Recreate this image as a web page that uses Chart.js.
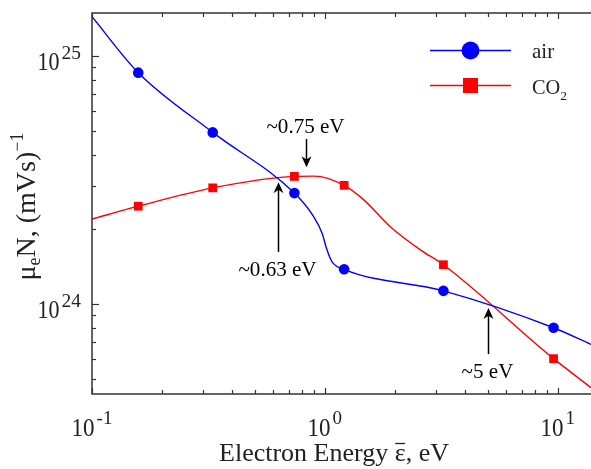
<!DOCTYPE html>
<html><head><meta charset="utf-8">
<script src="https://cdn.jsdelivr.net/npm/chart.js@4.4.1/dist/chart.umd.min.js"></script>
<style>html,body{margin:0;padding:0;background:#fff;overflow:hidden}</style>
</head><body>
<canvas id="c" width="591" height="469"></canvas>
<script>
// ---- data ----
const energy = [0.158, 0.33, 0.74, 1.21, 3.23, 9.6];            // eV (marker positions)
const airMobility = [8.57e24, 4.92e24, 2.80e24, 1.38e24, 1.13e24, 8.02e23];
const co2Mobility = [2.48e24, 2.94e24, 3.27e24, 3.01e24, 1.44e24, 6.02e23];
// extra points (between / beyond markers)
const airCurveX = [0.1, 0.895, 0.973, 1.022, 1.074, 13.9];
const airCurveY = [1.44e25, 2.25e24, 1.93e24, 1.65e24, 1.48e24, 6.87e23];
const co2CurveX = [0.1, 0.9, 1.47, 1.91, 2.58, 13.9];
const co2CurveY = [2.2e24, 3.28e24, 2.63e24, 2.05e24, 1.65e24, 4.6e23];
const xTickValues = [0.1, 1, 10];
const xTickExponents = ['-1', '0', '1'];
const yTickValues = [1e24, 1e25];
const yTickExponents = ['24', '25'];
const seriesNames = ['air', 'CO'];
const annotationLabels = ['~0.75 eV', '~0.63 eV', '~5 eV'];
const annotationX = [0.829, 0.627, 5.02];
const annotationTipY = [3.56e24, 3.10e24, 9.63e23];
const annotationTailY = [4.63e24, 1.62e24, 6.28e23];

const BLUE = '#0000ff', RED = '#ff0000', AXIS = '#333333';
const FONT = '"Liberation Serif", "Times New Roman", serif';

function merge(xs, ys, cx, cy) {
  const pts = xs.map((x, i) => ({x, y: ys[i]})).concat(cx.map((x, i) => ({x, y: cy[i]})));
  pts.sort((a, b) => a.x - b.x);
  return pts;
}
const markers = (ys) => energy.map((x, i) => ({x, y: ys[i]}));

function drawText(ctx, s, x, y, size, align, sx) {
  ctx.save();
  ctx.translate(x, y);
  ctx.scale(sx || 1, 1);
  ctx.font = size + 'px ' + FONT;
  ctx.textAlign = align || 'left';
  ctx.textBaseline = 'alphabetic';
  ctx.fillText(s, 0, 0);
  ctx.restore();
}
function textW(ctx, s, size, sx) {
  ctx.save(); ctx.font = size + 'px ' + FONT;
  const w = ctx.measureText(s).width * (sx || 1);
  ctx.restore(); return w;
}
function arrow(ctx, x, y0, y1) {
  const dir = y1 > y0 ? 1 : -1, len = 11, hw = 5;
  ctx.beginPath();
  ctx.moveTo(x, y0); ctx.lineTo(x, y1 - dir * len * 0.6);
  ctx.stroke();
  ctx.beginPath();
  ctx.moveTo(x, y1);
  ctx.lineTo(x - hw, y1 - dir * len);
  ctx.lineTo(x, y1 - dir * len * 0.7);
  ctx.lineTo(x + hw, y1 - dir * len);
  ctx.closePath(); ctx.fill();
}

const decor = {
  id: 'decor',
  afterDraw(chart) {
    const ctx = chart.ctx, a = chart.chartArea, xs = chart.scales.x, ys = chart.scales.y;
    ctx.save();
    ctx.strokeStyle = AXIS; ctx.fillStyle = AXIS; ctx.lineWidth = 1.5;
    ctx.beginPath();
    ctx.moveTo(a.right + 2, a.top); ctx.lineTo(a.left, a.top); ctx.lineTo(a.left, a.bottom); ctx.lineTo(a.right + 2, a.bottom);
    ctx.stroke();
    ctx.lineWidth = 1.2;
    for (let d = -1; d <= 1; d++) {
      for (let m = 1; m <= 9; m++) {
        const v = m * Math.pow(10, d);
        if (v < xs.min || v > xs.max) continue;
        const px = Math.round(xs.getPixelForValue(v)) + 0.5;
        const L = m === 1 ? 6 : 4;
        ctx.beginPath();
        ctx.moveTo(px, a.bottom); ctx.lineTo(px, a.bottom - L);
        ctx.moveTo(px, a.top); ctx.lineTo(px, a.top + L);
        ctx.stroke();
      }
    }
    for (let d = 23; d <= 25; d++) {
      for (let m = 1; m <= 9; m++) {
        const v = m * Math.pow(10, d);
        if (v < ys.min || v > ys.max) continue;
        const py = Math.round(ys.getPixelForValue(v)) + 0.5;
        const L = m === 1 ? 7 : 4;
        ctx.beginPath();
        ctx.moveTo(a.left, py); ctx.lineTo(a.left + L, py);
        ctx.stroke();
      }
    }
    ctx.fillStyle = '#222';
    xTickValues.forEach((v, i) => {
      const px = xs.getPixelForValue(v);
      const w1 = textW(ctx, '10', 25, 0.92), w2 = textW(ctx, xTickExponents[i], 19, 1);
      const start = px - (w1 + 2 + w2) / 2;
      drawText(ctx, '10', start, 436, 25, 'left', 0.92);
      drawText(ctx, xTickExponents[i], start + w1 + 2, 424, 19, 'left', 1);
    });
    yTickValues.forEach((v, i) => {
      const py = ys.getPixelForValue(v);
      const w2 = textW(ctx, yTickExponents[i], 19, 1.02);
      const right = 81;
      drawText(ctx, yTickExponents[i], right - w2, py + 2.5, 19, 'left', 1.02);
      drawText(ctx, '10', right - w2 - 2, py + 13.5, 25, 'right', 0.88);
    });
    {
      const p1 = 'Electron Energy ', p2 = '\u03b5', p3 = ', eV', sz = 26, sx = 1.0;
      const w1 = textW(ctx, p1, sz, sx), w2 = textW(ctx, p2, sz, sx), w3 = textW(ctx, p3, sz, sx);
      const start = 334 - (w1 + w2 + w3) / 2, base = 461;
      drawText(ctx, p1, start, base, sz, 'left', sx);
      drawText(ctx, p2, start + w1, base, sz, 'left', sx);
      drawText(ctx, p3, start + w1 + w2, base, sz, 'left', sx);
      ctx.lineWidth = 1.3; ctx.strokeStyle = '#222';
      ctx.beginPath(); ctx.moveTo(start + w1 + 0.5, base - 17.5); ctx.lineTo(start + w1 + w2 - 0.5, base - 17.5); ctx.stroke();
    }
    {
      const parts = [['\u03bc', 28, 0], ['e', 18, 5], ['N, (mVs)', 28, 0], ['\u22121', 18, -12]];
      const sx = 1.0;
      const ws = parts.map(p => textW(ctx, p[0], p[1], sx));
      const total = ws.reduce((s, w) => s + w, 0);
      ctx.save();
      ctx.translate(35, 206.5);
      ctx.rotate(-Math.PI / 2);
      let cur = -total / 2;
      parts.forEach((p, i) => { drawText(ctx, p[0], cur, p[2], p[1], 'left', sx); cur += ws[i]; });
      ctx.restore();
    }
    {
      ctx.lineWidth = 1.5;
      ctx.strokeStyle = BLUE; ctx.fillStyle = BLUE;
      ctx.beginPath(); ctx.moveTo(430, 50.5); ctx.lineTo(511, 50.5); ctx.stroke();
      ctx.beginPath(); ctx.arc(470.5, 50.5, 9, 0, Math.PI * 2); ctx.fill();
      ctx.strokeStyle = RED; ctx.fillStyle = RED;
      ctx.beginPath(); ctx.moveTo(430, 85.5); ctx.lineTo(511, 85.5); ctx.stroke();
      ctx.fillRect(463, 78, 15, 15);
      ctx.fillStyle = '#222';
      drawText(ctx, seriesNames[0], 532, 57.5, 21, 'left', 1);
      drawText(ctx, seriesNames[1], 532, 94, 21, 'left', 0.97);
      const wc = textW(ctx, seriesNames[1], 21, 0.97);
      drawText(ctx, '2', 532 + wc, 100, 13.5, 'left', 1);
    }
    ctx.strokeStyle = '#000'; ctx.fillStyle = '#000'; ctx.lineWidth = 1.5;
    annotationLabels.forEach((lab, i) => {
      const px = Math.round(xs.getPixelForValue(annotationX[i])) + 0.5;
      const tip = ys.getPixelForValue(annotationTipY[i]);
      const tail = ys.getPixelForValue(annotationTailY[i]);
      arrow(ctx, px, tail, tip);
      const below = tail > tip;
      drawText(ctx, lab, px - 1, below ? tail + 23.5 : tail - 6, 21.5, 'center', 0.98);
    });
    ctx.restore();
  }
};

new Chart(document.getElementById('c'), {
  type: 'line',
  data: {
    datasets: [
      {label: 'air', data: markers(airMobility), showLine: false, pointStyle: 'circle', pointRadius: 5.3,
       backgroundColor: BLUE, borderColor: BLUE, pointBorderWidth: 0, pointHoverRadius: 5.3},
      {label: 'CO2', data: markers(co2Mobility), showLine: false, pointStyle: 'rect', pointRadius: 6.2,
       backgroundColor: RED, borderColor: RED, pointBorderWidth: 0, pointHoverRadius: 6.2},
      {label: 'air curve', data: merge(energy, airMobility, airCurveX, airCurveY), borderColor: BLUE, borderWidth: 1.4,
       pointRadius: 0, cubicInterpolationMode: 'monotone', fill: false},
      {label: 'CO2 curve', data: merge(energy, co2Mobility, co2CurveX, co2CurveY), borderColor: RED, borderWidth: 1.4,
       pointRadius: 0, cubicInterpolationMode: 'monotone', fill: false}
    ]
  },
  options: {
    responsive: false, animation: false, devicePixelRatio: 1,
    layout: {autoPadding: false, padding: {left: 92, top: 13, right: 0, bottom: 75}},
    plugins: {legend: {display: false}, tooltip: {enabled: false}},
    scales: {
      x: {type: 'logarithmic', min: 0.1, max: 13.9, display: false},
      y: {type: 'logarithmic', min: 4.336e23, max: 1.491e25, display: false}
    }
  },
  plugins: [decor]
});
</script>
</body></html>
